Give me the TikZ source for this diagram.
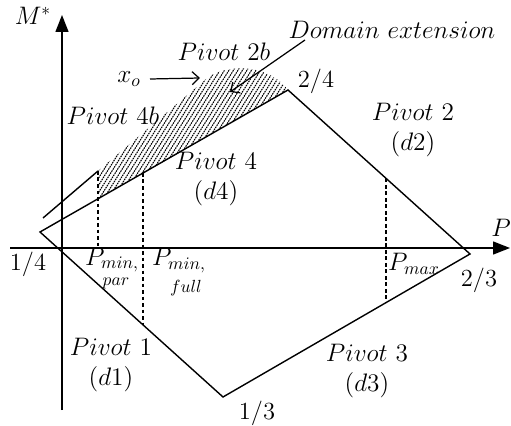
\documentclass[tikz,border=0pt]{standalone}
\usepackage{amsmath}
\usetikzlibrary{arrows.meta}

\begin{document}
\begin{tikzpicture}[
      x=1cm, y=1cm, font=\fontsize{14}{17}\selectfont,
      axis/.style={-{Triangle[length=3.4mm, width=2.6mm]}, line width=0.8pt},
      edge/.style={line width=0.8pt, line join=miter},
      guide/.style={line width=0.7pt, dash pattern=on 2.2pt off 1.5pt},
      ann/.style={-{Straight Barb[length=1.4mm, width=2.6mm]}, line width=0.7pt},
      hatch/.style={line width=0.6pt, dash pattern=on 0.9pt off 0.5pt},
    lbl/.style={inner sep=1pt, align=center}]

    \useasboundingbox (-1.24,-3.56) rectangle (8.98,4.96);

    % ---- axes ----
    \coordinate (pleft) at (-1.04,0);
    \coordinate (pright) at (8.96,0);
    \coordinate (mbot) at (0,-3.24);
    \coordinate (mtop) at (0,4.66);
    \draw[axis] (pleft) -- (pright);
    \draw[axis] (mbot) -- (mtop);
    \node[lbl] (lP) at (8.78,0.40) {$P$};
    \node[lbl] (lM) at (-0.58,4.64) {$M^{*}$};

    % ---- interaction diagram corners ----
    \coordinate (v14) at (-0.44,0.32);
    \coordinate (v13) at (3.22,-2.98);
    \coordinate (v23) at (8.16,-0.12);
    \coordinate (v24) at (4.52,3.16);

    % ---- domain extension (hatched, drawn behind the edges) ----
    \coordinate (h1) at (0.72,0.98);
    \coordinate (h2) at (0.72,1.54);
    \coordinate (h3) at (2.86,3.36);
    \begin{scope}
      \clip (h1) -- (h2) -- (h3) .. controls (3.2,3.68) and (4.1,3.72) .. (v24) -- cycle;
      \foreach \xx in {-1.2,-1.11,...,4.7}
      \draw[hatch] (\xx,0.9) -- ++(58:3.6);
    \end{scope}

    \draw[edge] (v14) -- (v13) -- (v23) -- (v24) -- cycle;
    \coordinate (p4b) at (-0.38,0.60);
    \draw[edge] (p4b) -- (h2);                                  % pivot 4b

    % ---- dashed limits ----
    \coordinate (g1b) at (0.72,0);
    \coordinate (g2t) at (1.62,1.50);
    \coordinate (g2b) at (1.62,-1.537);
    \coordinate (g3t) at (6.48,1.394);
    \coordinate (g3b) at (6.48,-1.093);
    \draw[guide] (h2) -- (g1b);
    \draw[guide] (g2t) -- (g2b);
    \draw[guide] (g3t) -- (g3b);

    % ---- corner labels ----
    \node[lbl] (c14) at (-0.68,-0.32) {1/4};
    \node[lbl] (c13) at (3.90,-3.30) {1/3};
    \node[lbl] (c23) at (8.34,-0.64) {2/3};
    \node[lbl] (c24) at (5.08,3.34) {2/4};

    % ---- pivot labels ----
    \node[lbl] (piv1) at (0.98,-2.34) {$Pivot~1$\\$(d1)$};
    \node[lbl] (piv2) at (7.02,2.36)  {$Pivot~2$\\$(d2)$};
    \node[lbl] (piv3) at (6.10,-2.46) {$Pivot~3$\\$(d3)$};
    \node[lbl] (piv4) at (3.08,1.38)  {$Pivot~4$\\$(d4)$};
    \node[lbl] (piv4b) at (1.02,2.64) {$Pivot~4b$};
    \node[lbl] (piv2b) at (3.24,3.92) {$Pivot~2b$};

    % ---- axial load limits ----
    \node[lbl] (pminp) at (1.00,-0.24) {$P_{min,}$};
    \node[lbl, inner sep=0pt] (pminpsub) at (1.08,-0.70) {$\scriptstyle par$};
    \node[lbl] (pminf) at (2.34,-0.25) {$P_{min,}$};
    \node[lbl, inner sep=0pt] (pminfsub) at (2.48,-0.80) {$\scriptstyle full$};
    \node[lbl] (pmax) at (7.04,-0.32) {$P_{max}$};

    % ---- annotations ----
    \node[lbl] (xo) at (1.34,3.38) {$x_o$};
    \coordinate (xofrom) at (1.76,3.38);
    \coordinate (xotip) at (2.76,3.40);
    \draw[ann] (xofrom) -- (xotip);
    \node[lbl] (domext) at (6.60,4.37) {$Domain~extension$};
    \coordinate (dfrom) at (4.86,4.16);
    \coordinate (dtip) at (3.36,3.12);
    \draw[ann] (dfrom) -- (dtip);
  \end{tikzpicture}
\end{document}
